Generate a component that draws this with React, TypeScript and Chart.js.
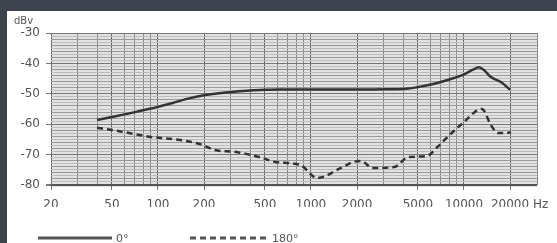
import React, { useEffect, useRef } from 'react';
import { Chart, registerables } from 'chart.js';

Chart.register(...registerables);

// 0° response (frequency in Hz, level in dBV)
const freq0 = [40, 50, 63, 80, 100, 125, 160, 200, 250, 315, 400, 500, 630, 1000, 2000, 3150, 4200, 5000, 6300, 8000, 10000, 11500, 12500, 13500, 15000, 17500, 20000];
const level0 = [-58.6, -57.6, -56.6, -55.4, -54.3, -53, -51.5, -50.5, -49.8, -49.3, -48.9, -48.7, -48.6, -48.6, -48.6, -48.5, -48.3, -47.8, -46.8, -45.3, -43.6, -42, -41.3, -42.2, -44.5, -46.2, -48.7];

// 180° response
const freq180 = [40, 50, 60, 90, 140, 195, 235, 320, 480, 580, 850, 1100, 1570, 1900, 2130, 2520, 3500, 4330, 5700, 6700, 8300, 10000, 12300, 13100, 15000, 16700, 19000, 20300];
const level180 = [-61.2, -61.9, -62.6, -64.2, -65.2, -66.8, -68.5, -69.1, -71.1, -72.4, -73.4, -77.7, -74.4, -72.4, -72.1, -74.4, -74.1, -70.8, -70.5, -67.5, -62.9, -59.3, -55.3, -55, -60.3, -62.9, -62.9, -62.6];

const xGridValues = [20, 30, 40, 50, 60, 70, 80, 90, 100, 200, 300, 400, 500, 600, 700, 800, 900, 1000, 2000, 3000, 4000, 5000, 6000, 7000, 8000, 9000, 10000, 20000, 30000];
const xLabeled = [20, 50, 100, 200, 500, 1000, 2000, 5000, 10000, 20000];
const yMin = -80;
const yMax = -30;
const yLabeledStep = 10;

const seriesNames = ['0°', '180°'];
const unitX = 'Hz';
const unitY = 'dBv';

const TEXT = '#555';
const LINE = '#333';

const decor = {
  id: 'decor',
  beforeDraw(chart: any) {
    const { ctx, chartArea: a } = chart;
    ctx.save();
    ctx.fillStyle = '#e2e2e2';
    ctx.fillRect(a.left, a.top, a.right - a.left, a.bottom - a.top + 2);
    ctx.restore();
  },
  afterDraw(chart: any) {
    const { ctx, chartArea: a } = chart;
    ctx.save();
    ctx.fillStyle = TEXT;
    ctx.font = '10px "DejaVu Sans"';
    ctx.textBaseline = 'middle';
    ctx.textAlign = 'left';
    ctx.fillText(unitY, 7, 10);
    ctx.font = '12px "DejaVu Sans"';
    ctx.fillText(unitX, a.right - 4, 194);

    // legend
    const ly = 227;
    ctx.strokeStyle = '#555';
    ctx.lineWidth = 3;
    ctx.beginPath();
    ctx.moveTo(31, ly);
    ctx.lineTo(105, ly);
    ctx.stroke();
    ctx.setLineDash([6, 4]);
    ctx.beginPath();
    ctx.moveTo(183, ly);
    ctx.lineTo(261, ly);
    ctx.stroke();
    ctx.setLineDash([]);
    ctx.font = '11px "DejaVu Sans"';
    ctx.textBaseline = 'top';
    ctx.fillText(seriesNames[0], 109, 223);
    ctx.fillText(seriesNames[1], 265, 223);
    ctx.restore();
  },
};

export default function App() {
  const ref = useRef<HTMLCanvasElement>(null);

  useEffect(() => {
    if (!ref.current) return;
    const chart = new Chart(ref.current, {
      type: 'line',
      data: {
        datasets: [
          {
            label: seriesNames[0],
            data: freq0.map((f, i) => ({ x: f, y: level0[i] })),
            borderColor: LINE,
            borderWidth: 2.5,
            pointRadius: 0,
            cubicInterpolationMode: 'monotone',
          },
          {
            label: seriesNames[1],
            data: freq180.map((f, i) => ({ x: f, y: level180[i] })),
            borderColor: LINE,
            borderWidth: 2.5,
            borderDash: [6, 4],
            pointRadius: 0,
            cubicInterpolationMode: 'monotone',
          },
        ],
      },
      options: {
        animation: false,
        responsive: false,
        events: [],
        layout: { padding: { left: 0, right: 20, top: 22, bottom: 36 } },
        plugins: { legend: { display: false }, tooltip: { enabled: false } },
        scales: {
          x: {
            type: 'logarithmic',
            min: 20,
            max: 30000,
            afterBuildTicks: (scale: any) => {
              scale.ticks = xGridValues.map((v) => ({ value: v }));
            },
            afterFit: (scale: any) => {
              scale.height = 22;
            },
            border: { display: false },
            grid: {
              color: (c: any) => (xLabeled.includes(c.tick?.value) ? '#666' : '#888'),
              lineWidth: 1,
              tickLength: 5,
              tickColor: (c: any) => (xLabeled.includes(c.tick?.value) ? '#777' : 'rgba(0,0,0,0)'),
            },
            ticks: {
              autoSkip: false,
              maxRotation: 0,
              padding: 8,
              color: TEXT,
              font: { family: 'DejaVu Sans', size: 12 },
              callback: (v: any) => (xLabeled.includes(Number(v)) ? String(v) : ''),
            },
          },
          y: {
            min: yMin,
            max: yMax,
            afterFit: (scale: any) => {
              scale.width = 44;
            },
            border: { display: false },
            grid: {
              color: (c: any) => {
                const v = c.tick?.value;
                if (v === yMin) return '#555';
                if (v % yLabeledStep === 0) return '#777';
                return v % 2 === 0 ? '#999' : '#bdbdbd';
              },
              lineWidth: (c: any) => (c.tick?.value === yMin ? 2 : 1),
              tickLength: 5,
              tickColor: (c: any) => (c.tick?.value % yLabeledStep === 0 ? '#777' : 'rgba(0,0,0,0)'),
            },
            ticks: {
              stepSize: 1,
              autoSkip: false,
              padding: 6,
              color: TEXT,
              font: { family: 'DejaVu Sans', size: 12 },
              callback: (v: any) => (Number(v) % yLabeledStep === 0 ? String(v) : ''),
            },
          },
        },
      },
      plugins: [decor],
    } as any);
    return () => chart.destroy();
  }, []);

  return (
    <div style={{ position: 'absolute', left: 0, top: 0, width: 557, height: 243, background: '#3c434d', overflow: 'hidden' }}>
      <div style={{ position: 'absolute', left: 7, top: 11, width: 550, height: 232, background: '#ffffff' }}>
        <canvas ref={ref} width={550} height={232} style={{ display: 'block' }} />
      </div>
    </div>
  );
}
